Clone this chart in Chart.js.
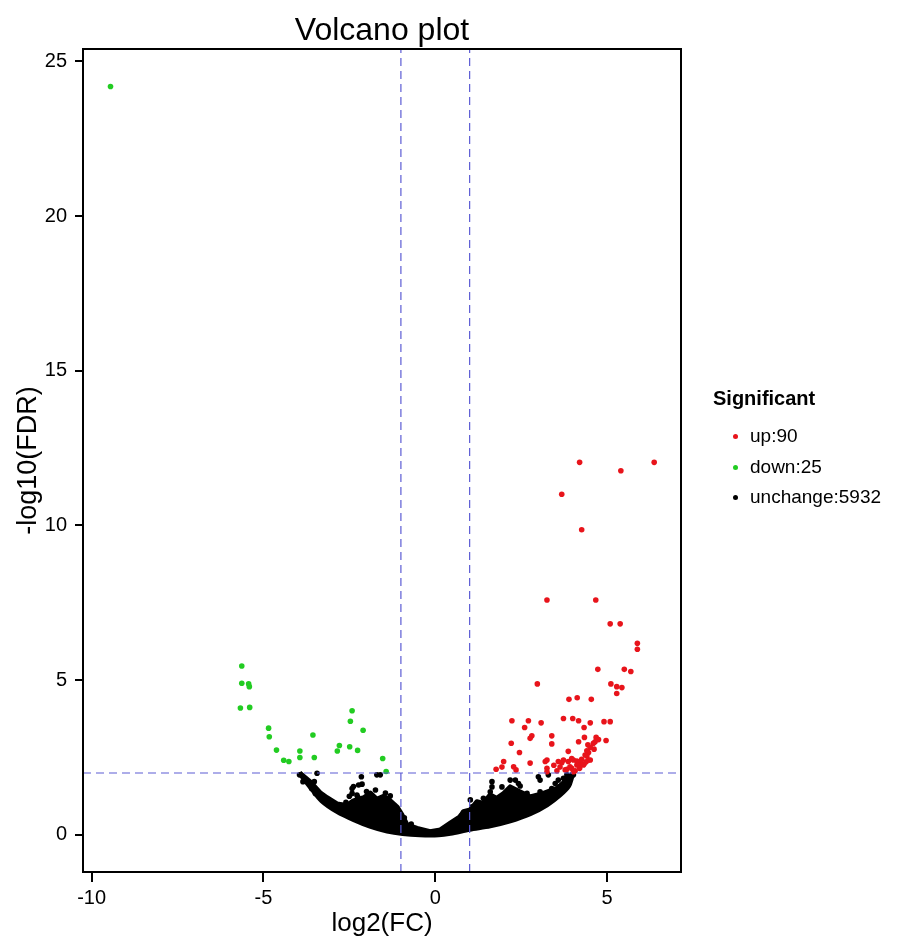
<!DOCTYPE html>
<html>
<head>
<meta charset="utf-8">
<title>Volcano plot</title>
<script src="https://cdn.jsdelivr.net/npm/chart.js@4.4.0/dist/chart.umd.min.js"></script>
<style>
  body { margin: 0; background: #fff; }
  #wrap { position: relative; width: 909px; height: 939px; }
  #legend { position: absolute; left: 0; top: 0; font-family: "Liberation Sans", Arial, sans-serif; color: #000; }
  #legend div { position: absolute; white-space: nowrap; line-height: 22px; height: 22px; }
  .lg-title { font-weight: bold; font-size: 20px; }
  .lg-item { font-size: 19px; }
  .dot { position: absolute; width: 5px; height: 5px; border-radius: 50%; }
</style>
</head>
<body>
<div id="wrap">
  <canvas id="volcano" width="909" height="939"></canvas>
  <div id="legend"></div>
</div>
<script>
"use strict";

// axis ranges and ticks
var xRange = [-10.25, 7.15];
var yRange = [-1.2, 25.4];
var xTicks = [-10, -5, 0, 5];
var yTicks = [0, 5, 10, 15, 20, 25];

// cut-offs
var fcCut = [-1, 1];
var fdrCut = 2;

// legend
var legendTitle = "Significant";
var legendLabels = ["up:90", "down:25", "unchange:5932"];
var legendColors = ["#e8141b", "#22cc22", "#000000"];

// down regulated (green)
var downX = [-9.45, -5.63, -5.63, -5.43, -5.41, -5.40, -5.67, -4.85, -4.83, -4.62, -4.41, -4.26, -3.94,
  -3.94, -3.56, -3.52, -2.79, -2.85, -2.49, -2.42, -2.47, -2.10, -2.26, -1.53, -1.43];
var downY = [24.19, 5.46, 4.90, 4.88, 4.79, 4.12, 4.10, 3.45, 3.17, 2.74, 2.41, 2.37, 2.71,
  2.50, 3.23, 2.50, 2.89, 2.71, 2.85, 4.01, 3.67, 3.38, 2.73, 2.47, 2.05];

// up regulated (red)
var upX = [4.20, 6.37, 5.40, 3.68, 4.26, 3.25, 4.67, 5.09, 5.38, 5.88, 5.88, 4.73, 5.50, 5.69, 2.97,
  5.11, 5.28, 5.43, 5.28, 3.89, 4.13, 4.54,
  2.23, 2.71, 3.08, 2.60, 3.73, 4.00, 4.17, 4.33, 4.51, 4.91, 5.09, 2.81, 2.76, 3.39, 4.34, 4.68,
  4.65, 4.97, 4.17, 2.21, 3.39, 4.44, 4.62, 2.45, 3.87, 4.46, 4.41, 4.51, 2.76, 3.25, 3.58, 3.73,
  3.87, 4.02, 4.22, 4.33, 4.12, 1.99, 1.94, 1.77, 2.28, 2.35, 3.25, 3.63, 3.83, 3.97, 4.07, 3.54, 3.25,
  4.75, 4.60, 4.51, 4.41, 4.36, 4.26, 4.12, 3.97, 3.68, 3.92, 4.17, 4.31, 4.46, 3.78, 4.02, 3.20,
  4.20, 4.39, 3.45];
var upY = [12.04, 12.04, 11.77, 11.01, 9.86, 7.59, 7.59, 6.82, 6.82, 6.19, 6.00, 5.35, 5.35, 5.28, 4.88,
  4.88, 4.79, 4.76, 4.57, 4.38, 4.43, 4.38,
  3.69, 3.69, 3.62, 3.47, 3.76, 3.76, 3.69, 3.47, 3.62, 3.66, 3.66, 3.20, 3.12, 3.20, 3.15, 3.15,
  3.01, 3.05, 3.01, 2.96, 2.94, 2.91, 2.77, 2.66, 2.70, 2.66, 2.55, 2.42, 2.32, 2.42, 2.37, 2.42,
  2.37, 2.42, 2.37, 2.29, 2.26, 2.37, 2.19, 2.12, 2.20, 2.10, 2.15, 2.19, 2.12, 2.15, 2.07, 2.07, 2.04,
  3.08, 2.96, 2.83, 2.72, 2.58, 2.44, 2.39, 2.47, 2.33, 2.20, 2.26, 2.26, 2.42, 2.10, 2.04, 2.37,
  2.15, 2.36, 2.25];

// unchanged: loose points around the edge of the dense cloud
var unchangeX = [-3.44, -3.95, -3.85, -3.52, -3.60, -3.49, -2.15, -1.70, -1.60, -2.13, -2.38, -2.42,
  -2.28, -1.74, -1.84, -1.31, -2.08, -2.23, -2.42, -2.26, -1.20, -1.55, -1.95, -2.60, -2.90, -3.20,
  -0.90, -0.70, -1.45, -2.00, -2.50,
  1.65, 1.65, 1.60, 2.18, 2.42, 1.94, 2.28, 2.67, 3.05, 3.49, 3.73, 3.05, 3.29, 3.83, 1.02, 1.07,
  1.40, 1.31, 0.87, 1.84, 2.08, 2.42, 2.76, 2.96, 3.34, 3.00, 3.58, 2.33, 3.88, 4.02, 3.73, 3.39,
  2.47, 0.60, 0.75];
var unchangeY = [1.99, 1.94, 1.72, 1.72, 1.50, 1.34, 1.88, 1.94, 1.94, 1.64, 1.56, 1.34,
  1.29, 1.45, 1.23, 1.26, 1.15, 1.61, 1.50, 1.23, 0.95, 1.10, 1.02, 1.05, 0.98, 1.20,
  0.55, 0.35, 1.35, 1.40, 1.25,
  1.72, 1.55, 1.39, 1.77, 1.66, 1.55, 1.39, 1.34, 1.39, 1.66, 1.83, 1.77, 1.94, 1.94, 1.13, 0.91,
  1.18, 0.75, 0.69, 1.13, 1.23, 1.13, 1.02, 1.18, 1.34, 1.88, 1.77, 1.77, 1.88, 1.94, 1.55, 1.50,
  1.58, 0.45, 0.62];

// unchanged: outline of the dense cloud (lower and upper edge)
var cloudLowX = [-3.95, -3.6, -3.3, -2.85, -2.35, -1.9, -1.4, -0.95, -0.45, 0.1, 0.44, 1.0, 1.6,
  2.18, 2.76, 3.25, 3.63, 3.88, 3.98, 4.02];
var cloudLowY = [2.0, 1.5, 1.1, 0.75, 0.48, 0.28, 0.12, 0.04, 0.0, 0.0, 0.05, 0.18, 0.29,
  0.45, 0.68, 0.97, 1.29, 1.58, 1.9, 2.0];
var cloudHighX = [-3.95, -3.63, -3.34, -3.15, -2.86, -2.57, -2.38, -2.08, -1.89, -1.70, -1.50, -1.31,
  -1.11, -0.97, -0.82, -0.53, -0.15, 0.15, 0.44, 0.73, 0.82, 1.02, 1.21, 1.40, 1.60, 1.79, 1.99,
  2.18, 2.47, 2.76, 3.15, 3.54, 3.83, 4.02];
var cloudHighY = [2.0, 1.7, 1.35, 1.2, 1.0, 0.95, 1.1, 1.2, 1.35, 1.15, 1.25, 1.1,
  0.9, 0.65, 0.32, 0.21, 0.10, 0.16, 0.38, 0.59, 0.75, 0.81, 1.07, 1.02, 1.29, 1.18, 1.34,
  1.55, 1.39, 1.23, 1.34, 1.5, 1.78, 2.0];

function pts(xs, ys) {
  return xs.map(function (x, i) {
    return { x: x, y: ys[i] };
  });
}

var fontFamily = '"Liberation Sans", Arial, Helvetica, sans-serif';
Chart.defaults.font.family = fontFamily;
Chart.defaults.color = "#000";

var dashColor = "#5c5cd4";
var dashStyle = [8, 5];

function cutLine(data) {
  return {
    type: "line",
    data: data,
    borderColor: dashColor,
    borderWidth: 1.2,
    borderDash: dashStyle,
    pointRadius: 0,
    fill: false,
  };
}

var boxPlugin = {
  id: "box",
  afterDraw: function (chart) {
    var c = chart.ctx;
    var a = chart.chartArea;
    c.save();
    c.strokeStyle = "#000";
    c.lineWidth = 2;
    c.strokeRect(a.left, a.top, a.right - a.left, a.bottom - a.top);
    c.restore();
  },
};

var ctx = document.getElementById("volcano").getContext("2d");
var volcano = new Chart(ctx, {
  type: "scatter",
  data: {
    datasets: [
      cutLine([{ x: fcCut[0], y: yRange[0] }, { x: fcCut[0], y: yRange[1] }]),
      cutLine([{ x: fcCut[1], y: yRange[0] }, { x: fcCut[1], y: yRange[1] }]),
      cutLine([{ x: xRange[0], y: fdrCut }, { x: xRange[1], y: fdrCut }]),
      {
        label: legendLabels[0],
        data: pts(upX, upY),
        backgroundColor: legendColors[0],
        pointRadius: 2.8,
        borderWidth: 0,
      },
      {
        label: legendLabels[1],
        data: pts(downX, downY),
        backgroundColor: legendColors[1],
        pointRadius: 2.8,
        borderWidth: 0,
      },
      {
        label: legendLabels[2],
        data: pts(unchangeX, unchangeY),
        backgroundColor: legendColors[2],
        pointRadius: 2.8,
        borderWidth: 0,
      },
      {
        type: "line",
        data: pts(cloudLowX, cloudLowY),
        borderColor: "#000",
        borderWidth: 5,
        pointRadius: 0,
        tension: 0.3,
        fill: false,
      },
      {
        type: "line",
        data: pts(cloudHighX, cloudHighY),
        borderColor: "#000",
        backgroundColor: "#000",
        borderWidth: 5,
        borderJoinStyle: "round",
        pointRadius: 0,
        fill: "-1",
      },
    ],
  },
  options: {
    responsive: false,
    animation: false,
    layout: { padding: { left: 0, right: 228, top: 0, bottom: 0 } },
    plugins: {
      legend: { display: false },
      tooltip: { enabled: false },
      title: {
        display: true,
        text: "Volcano plot",
        fullSize: false,
        color: "#000",
        font: { size: 32, weight: "normal", lineHeight: 1 },
        padding: { top: 15, bottom: 2 },
      },
    },
    scales: {
      x: {
        type: "linear",
        min: xRange[0],
        max: xRange[1],
        afterBuildTicks: function (s) {
          s.ticks = xTicks.map(function (v) { return { value: v }; });
        },
        afterFit: function (s) { s.height = 67; },
        border: { display: false },
        grid: { drawOnChartArea: false, tickLength: 10, lineWidth: 2, color: "#000" },
        ticks: { font: { size: 20 }, color: "#000", padding: 4, maxRotation: 0 },
        title: {
          display: true,
          text: "log2(FC)",
          color: "#000",
          font: { size: 26, lineHeight: 1 },
          padding: { top: 0, bottom: 2 },
        },
      },
      y: {
        type: "linear",
        min: yRange[0],
        max: yRange[1],
        afterBuildTicks: function (s) {
          s.ticks = yTicks.map(function (v) { return { value: v }; });
        },
        afterFit: function (s) { s.width = 83; },
        border: { display: false },
        grid: { drawOnChartArea: false, tickLength: 8, lineWidth: 2, color: "#000" },
        ticks: { font: { size: 20 }, color: "#000", padding: 8 },
        title: {
          display: true,
          text: "-log10(FDR)",
          color: "#000",
          font: { size: 27, lineHeight: 1 },
          padding: { top: 15, bottom: 0 },
        },
      },
    },
  },
  plugins: [boxPlugin],
});

// legend beside the plot
var legend = document.getElementById("legend");
var head = document.createElement("div");
head.className = "lg-title";
head.textContent = legendTitle;
head.style.left = "713px";
head.style.top = 398 - 11 + "px";
legend.appendChild(head);
var itemY = [436, 467, 497];
legendLabels.forEach(function (lab, i) {
  var d = document.createElement("div");
  d.className = "dot";
  d.style.background = legendColors[i];
  d.style.left = 733 + "px";
  d.style.top = itemY[i] - 2 + "px";
  d.style.height = "5px";
  legend.appendChild(d);
  var t = document.createElement("div");
  t.className = "lg-item";
  t.textContent = lab;
  t.style.left = "750px";
  t.style.top = itemY[i] - 11 + "px";
  legend.appendChild(t);
});
</script>
</body>
</html>
